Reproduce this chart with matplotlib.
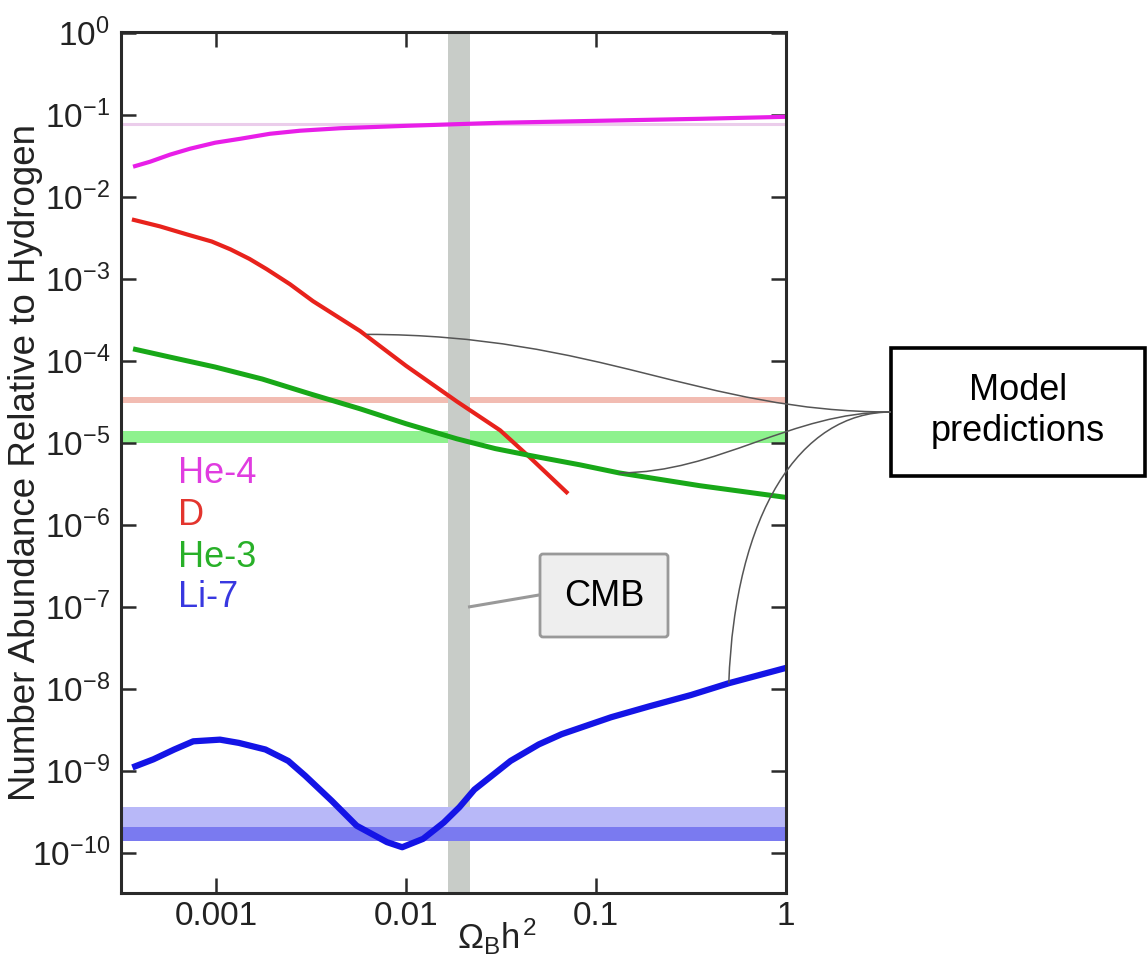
import numpy as np
import matplotlib
matplotlib.use('Agg')
import matplotlib.pyplot as plt
from matplotlib.path import Path
from matplotlib.patches import PathPatch, FancyBboxPatch, Rectangle
from matplotlib.transforms import IdentityTransform

plt.rcParams['font.family'] = ['Liberation Sans', 'DejaVu Sans']
plt.rcParams['mathtext.fontset'] = 'custom'
plt.rcParams['mathtext.rm'] = 'Liberation Sans'
plt.rcParams['mathtext.it'] = 'Liberation Sans'
plt.rcParams['mathtext.bf'] = 'Liberation Sans:bold'

# --- data ---
he4_x = [3.66e-4, 4.5e-4, 5.73e-4, 7.3e-4, 9.9e-4, 1.34e-3, 1.92e-3, 2.77e-3, 4.5e-3,
         0.01, 0.0313, 0.105, 0.352, 1.0]
he4_y = [0.0233, 0.0268, 0.0327, 0.0386, 0.0457, 0.051, 0.0587, 0.064, 0.0686,
         0.0734, 0.080, 0.0846, 0.0894, 0.0946]

d_x = [3.61e-4, 5.07e-4, 7.03e-4, 9.5e-4, 1.19e-3, 1.5e-3, 1.85e-3, 2.45e-3, 3.24e-3, 5.73e-3,
       0.01, 0.0185, 0.0313, 0.045, 0.0713]
d_y = [5.3e-3, 4.36e-3, 3.48e-3, 2.85e-3, 2.29e-3, 1.75e-3, 1.31e-3, 8.6e-4, 5.34e-4, 2.31e-4,
       8.7e-5, 3.2e-5, 1.42e-5, 6.6e-6, 2.4e-6]

he3_x = [3.66e-4, 5.73e-4, 9.9e-4, 1.75e-3, 3.12e-3, 5.73e-3, 0.01, 0.0185,
         0.0295, 0.045, 0.082, 0.132, 0.352, 1.0]
he3_y = [1.40e-4, 1.11e-4, 8.4e-5, 6.0e-5, 3.96e-5, 2.6e-5, 1.71e-5, 1.12e-5,
         8.5e-6, 7.0e-6, 5.4e-6, 4.3e-6, 3.0e-6, 2.16e-6]

li7_x = [3.63e-4, 4.68e-4, 6.03e-4, 7.59e-4, 1.05e-3, 1.32e-3, 1.82e-3, 2.4e-3,
         2.95e-3, 4.07e-3, 5.5e-3, 7.94e-3, 9.55e-3, 0.0123, 0.0158, 0.0191,
         0.0229, 0.0355, 0.05, 0.066, 0.12, 0.19, 0.316, 0.5, 1.0]
li7_y = [1.10e-9, 1.38e-9, 1.82e-9, 2.29e-9, 2.40e-9, 2.19e-9, 1.82e-9, 1.32e-9,
         8.7e-10, 4.3e-10, 2.14e-10, 1.35e-10, 1.17e-10, 1.48e-10, 2.34e-10, 3.6e-10,
         5.9e-10, 1.32e-9, 2.1e-9, 2.8e-9, 4.5e-9, 6.1e-9, 8.4e-9, 1.17e-8, 1.8e-8]

# observed abundances (horizontal bands)
he4_obs = 0.078
d_obs = (3.1e-5, 3.6e-5)
he3_obs = (1.0e-5, 1.4e-5)
li7_obs_wide = (2.05e-10, 3.6e-10)
li7_obs_core = (1.39e-10, 2.05e-10)
cmb_range = (0.0166, 0.0216)

species = ['He-4', 'D', 'He-3', 'Li-7']
curve_colors = ['#e81ee8', '#e8221c', '#18a818', '#1414e6']
label_colors = ['#e03ce0', '#e3352e', '#28b028', '#3838e0']

xticks = [0.001, 0.01, 0.1, 1]
xticklabels = ['0.001', '0.01', '0.1', '1']
ydecades = list(range(-10, 1))

W, H = 1148, 972
fig = plt.figure(figsize=(W / 100, H / 100), dpi=100)
ax = fig.add_axes([121 / W, 1 - 893 / H, (786 - 121) / W, (893 - 32) / H])
ax.set_xscale('log')
ax.set_yscale('log')
ax.set_xlim(10 ** -3.5, 1.0)
ax.set_ylim(10 ** -10.49, 10 ** 0.01)

# bands
ax.axhline(he4_obs, color='#ebcdeb', lw=2.2, zorder=1)
ax.axhspan(*d_obs, color='#f2bcb2', lw=0, zorder=1)
ax.axhspan(*he3_obs, color='#8ef28e', lw=0, zorder=1)
ax.axvspan(*cmb_range, color='#c8ccc8', lw=0, zorder=1.5)
ax.axhspan(*li7_obs_wide, color='#b8b8f8', lw=0, zorder=2)
ax.axhspan(*li7_obs_core, color='#7a7af0', lw=0, zorder=2)

# model curves
kw = dict(zorder=3, solid_capstyle='butt', solid_joinstyle='round')
ax.plot(he4_x, he4_y, color=curve_colors[0], lw=3.0, **kw)
ax.plot(d_x, d_y, color=curve_colors[1], lw=3.0, **kw)
ax.plot(he3_x, he3_y, color=curve_colors[2], lw=3.6, **kw)
ax.plot(li7_x, li7_y, color=curve_colors[3], lw=4.5, **kw)

# axes styling
for s in ax.spines.values():
    s.set_linewidth(2.2)
    s.set_color('#2a2a2a')
    s.set_zorder(5)
ax.set_xticks(xticks)
ax.set_xticklabels(xticklabels)
ax.set_yticks([10.0 ** k for k in ydecades])
ax.set_yticklabels([r'$\mathregular{10^{%d}}$' % k for k in ydecades])
ax.minorticks_off()
ax.tick_params(which='major', direction='in', length=11, width=1.8, color='#2a2a2a',
               top=True, right=True, labelsize=24, labelcolor='#222222')
ax.tick_params(axis='y', pad=8)
ax.tick_params(axis='x', pad=6)

ax.set_xlabel(r'$\Omega_{\rm B}h^2$', fontsize=25, color='#222222')
ax.xaxis.set_label_coords((497 - 121) / 665, -0.028)
ax.set_ylabel('Number Abundance Relative to Hydrogen', fontsize=26.5, color='#222222')
ax.yaxis.set_label_coords(-0.118, 0.5)

# species labels
label_base = [483, 525, 567, 607]
for name, col, py in zip(species, label_colors, label_base):
    ax.text((178 - 121) / 665, (893 - py) / 861, name, color=col, fontsize=26,
            va='baseline', ha='left', transform=ax.transAxes, zorder=6)

# CMB callout
cmb_box = FancyBboxPatch((540, H - 637), 128, 83, boxstyle='round,pad=0,rounding_size=3',
                         fc='#eeeeee', ec='#999999', lw=2.0, transform=IdentityTransform())
fig.add_artist(cmb_box)
fig.text(604 / W, 1 - 596 / H, 'CMB', fontsize=26, ha='center', va='center', color='black')
p_cmb = ax.transData.transform((cmb_range[1], 1.0e-7))
fig.add_artist(plt.Line2D([p_cmb[0], 539], [p_cmb[1], H - 595], color='#999999', lw=2.2,
                          transform=IdentityTransform()))

# Model predictions callout
box = Rectangle((891, H - 476), 254, 128, fc='white', ec='black', lw=2.6,
                transform=IdentityTransform())
fig.add_artist(box)
fig.text(1018 / W, 1 - 411 / H, 'Model\npredictions', fontsize=26, ha='center', va='center',
         color='black', linespacing=1.2)

box_mid = np.array([891.0, H - 412.0])


def connector(p0, c1, c2):
    path = Path([p0, c1, c2, box_mid],
                [Path.MOVETO, Path.CURVE4, Path.CURVE4, Path.CURVE4])
    fig.add_artist(PathPatch(path, fc='none', ec='#555555', lw=1.1,
                             transform=IdentityTransform()))


p = ax.transData.transform((0.0062, 2.1e-4))
connector(p, p + [233, 0], box_mid + [-191, 0])
p = ax.transData.transform((0.132, 4.3e-6))
connector(p, p + [100, 0], box_mid + [-100, 0])
p = ax.transData.transform((0.5, 1.17e-8))
connector(p, p + [6, 170], box_mid + [-91, 0])

fig.savefig('out.png', dpi=100)
